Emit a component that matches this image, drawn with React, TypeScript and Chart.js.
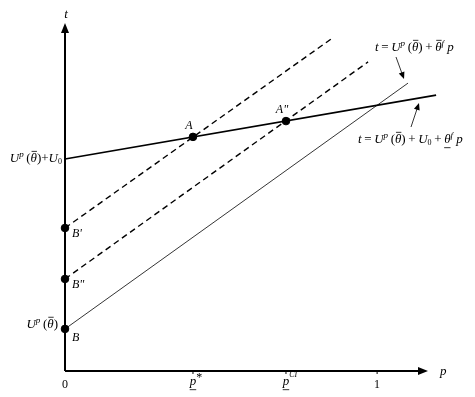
import React, { useEffect, useRef } from "react";
import { Chart, registerables } from "chart.js";

Chart.register(...registerables);

// x positions (p)
const pStar = 0.41;
const pCI = 0.708;
const xTicks = [0, pStar, pCI, 1];

// lines: [x, t] endpoints
const lineLow = [
  { x: 0, y: 0.67 },
  { x: 1.189, y: 0.872 },
]; // t = U^p + U0 + θ_ p
const lineHigh = [
  { x: 0, y: 0.133 },
  { x: 1.099, y: 0.91 },
]; // t = U^p + θ̄ p
const dashB1 = [
  { x: 0, y: 0.452 },
  { x: 0.862, y: 1.056 },
];
const dashB2 = [
  { x: 0, y: 0.291 },
  { x: 0.971, y: 0.977 },
];
const pointsA = [
  { x: pStar, y: 0.74 },
  { x: pCI, y: 0.79 },
];
const pointsB = [
  { x: 0, y: 0.452 },
  { x: 0, y: 0.291 },
  { x: 0, y: 0.133 },
];
const X_MAX = 1.163;
const Y_MAX = 1.1;

type Seg = { t: string; it?: boolean; sz?: number; dy?: number; ov?: boolean; un?: boolean };
const FONT = '"Liberation Serif", "Times New Roman", serif';
const TS = "\u2009";

function segFont(s: Seg, base: number) {
  const size = s.sz ?? base;
  return `${s.it ? "italic " : ""}${size}px ${FONT}`;
}

function drawRich(ctx: CanvasRenderingContext2D, segs: Seg[], x: number, y: number, align: "left" | "right" | "center", base = 13) {
  let total = 0;
  const widths = segs.map((s) => {
    ctx.font = segFont(s, base);
    const w = ctx.measureText(s.t).width;
    total += w;
    return w;
  });
  let cx = align === "left" ? x : align === "right" ? x - total : x - total / 2;
  ctx.textBaseline = "alphabetic";
  ctx.textAlign = "left";
  segs.forEach((s, i) => {
    ctx.font = segFont(s, base);
    const yy = y + (s.dy ?? 0);
    ctx.fillText(s.t, cx, yy);
    const size = s.sz ?? base;
    if (s.ov) {
      ctx.beginPath();
      ctx.lineWidth = 0.8;
      ctx.moveTo(cx + 1, yy - size * 0.82);
      ctx.lineTo(cx + widths[i], yy - size * 0.82);
      ctx.stroke();
    }
    if (s.un) {
      ctx.beginPath();
      ctx.lineWidth = 0.8;
      ctx.moveTo(cx, yy + size * 0.36);
      ctx.lineTo(cx + widths[i], yy + size * 0.36);
      ctx.stroke();
    }
    cx += widths[i];
  });
}

function arrow(ctx: CanvasRenderingContext2D, x1: number, y1: number, x2: number, y2: number, len = 7, half = 3) {
  const a = Math.atan2(y2 - y1, x2 - x1);
  ctx.beginPath();
  ctx.moveTo(x1, y1);
  ctx.lineTo(x2 - Math.cos(a) * len * 0.8, y2 - Math.sin(a) * len * 0.8);
  ctx.stroke();
  ctx.beginPath();
  ctx.moveTo(x2, y2);
  ctx.lineTo(x2 - Math.cos(a) * len - Math.sin(a) * half, y2 - Math.sin(a) * len + Math.cos(a) * half);
  ctx.lineTo(x2 - Math.cos(a) * len + Math.sin(a) * half, y2 - Math.sin(a) * len - Math.cos(a) * half);
  ctx.closePath();
  ctx.fill();
}

const Up = (): Seg[] => [
  { t: "U", it: true },
  { t: "p", it: true, sz: 9, dy: -5 },
  { t: TS + "(" },
  { t: "θ", it: true, ov: true },
  { t: ")" },
];

const overlay = {
  id: "overlay",
  afterDatasetsDraw(chart: any) {
    const ctx: CanvasRenderingContext2D = chart.ctx;
    const xs = chart.scales.x;
    const ys = chart.scales.y;
    const x0 = xs.getPixelForValue(0);
    const y0 = ys.getPixelForValue(0);
    const xEnd = xs.getPixelForValue(X_MAX);
    const yEnd = ys.getPixelForValue(Y_MAX);
    ctx.save();
    ctx.strokeStyle = "#000";
    ctx.fillStyle = "#000";
    ctx.lineWidth = 2;
    // y axis
    ctx.beginPath();
    ctx.moveTo(x0, y0);
    ctx.lineTo(x0, yEnd + 8);
    ctx.stroke();
    ctx.beginPath();
    ctx.moveTo(x0, yEnd);
    ctx.lineTo(x0 - 4, yEnd + 10);
    ctx.lineTo(x0 + 4, yEnd + 10);
    ctx.closePath();
    ctx.fill();
    // x axis
    ctx.beginPath();
    ctx.moveTo(x0, y0);
    ctx.lineTo(xEnd - 8, y0);
    ctx.stroke();
    ctx.beginPath();
    ctx.moveTo(xEnd, y0);
    ctx.lineTo(xEnd - 10, y0 - 4);
    ctx.lineTo(xEnd - 10, y0 + 4);
    ctx.closePath();
    ctx.fill();
    // ticks
    ctx.lineWidth = 1;
    xTicks.slice(1).forEach((v) => {
      const px = xs.getPixelForValue(v);
      ctx.beginPath();
      ctx.moveTo(px, y0);
      ctx.lineTo(px, y0 + 3);
      ctx.stroke();
    });
    // axis labels
    drawRich(ctx, [{ t: "t", it: true }], x0 + 1, yEnd - 5, "center");
    drawRich(ctx, [{ t: "p", it: true }], xEnd + 12, y0 + 4, "left");
    drawRich(ctx, [{ t: "0" }], x0, y0 + 17, "center", 12);
    drawRich(ctx, [{ t: "1" }], xs.getPixelForValue(1), y0 + 17, "center", 12);
    drawRich(ctx, [{ t: "p", it: true, un: true }, { t: "*", sz: 12, dy: -4 }], xs.getPixelForValue(pStar) + 3, y0 + 14, "center");
    drawRich(ctx, [{ t: "p", it: true, un: true }, { t: "CI", it: true, sz: 8, dy: -8 }], xs.getPixelForValue(pCI) + 4, y0 + 14, "center");
    // left labels
    drawRich(ctx, [...Up(), { t: "+" }, { t: "U", it: true }, { t: "0", sz: 8, dy: 2 }], x0 - 3, ys.getPixelForValue(lineLow[0].y) + 3, "right");
    drawRich(ctx, Up(), x0 - 7, ys.getPixelForValue(pointsB[2].y) - 1, "right");
    // point labels
    const bLabels = ["B'", "B\"", "B"];
    pointsB.forEach((p, i) => {
      drawRich(ctx, [{ t: bLabels[i], it: true, sz: 12 }], x0 + 7, ys.getPixelForValue(p.y) + 9 + (i === 2 ? 3 : 0), "left", 12);
    });
    const aLabels = ["A", "A\""];
    pointsA.forEach((p, i) => {
      const px = xs.getPixelForValue(p.x);
      const py = ys.getPixelForValue(p.y);
      drawRich(ctx, [{ t: aLabels[i], it: true }], px - 4, py - 8, "center", 12);
    });
    // equation labels
    ctx.lineWidth = 0.9;
    drawRich(
      ctx,
      [
        { t: "t", it: true },
        { t: TS + "=" + TS },
        ...Up(),
        { t: TS + "+" + TS },
        { t: "θ", it: true, ov: true },
        { t: "f", it: true, sz: 9, dy: -5 },
        { t: " " },
        { t: "p", it: true },
      ],
      375,
      51,
      "left"
    );
    arrow(ctx, 396, 57, 404, 79);
    drawRich(
      ctx,
      [
        { t: "t", it: true },
        { t: TS + "=" + TS },
        ...Up(),
        { t: TS + "+" + TS },
        { t: "U", it: true },
        { t: "0", sz: 8, dy: 2 },
        { t: TS + "+" + TS },
        { t: "θ", it: true, un: true },
        { t: "f", it: true, sz: 9, dy: -5 },
        { t: " " },
        { t: "p", it: true },
      ],
      358,
      143,
      "left"
    );
    arrow(ctx, 411, 127, 419, 103);
    ctx.restore();
  },
};

export default function App() {
  const ref = useRef<HTMLCanvasElement>(null);
  useEffect(() => {
    if (!ref.current) return;
    const chart = new Chart(ref.current, {
      type: "scatter",
      data: {
        datasets: [
          { data: lineLow, showLine: true, borderColor: "#000", borderWidth: 1.7, pointRadius: 0, clip: false },
          { data: lineHigh, showLine: true, borderColor: "#000", borderWidth: 0.8, pointRadius: 0, clip: false },
          { data: dashB1, showLine: true, borderColor: "#000", borderWidth: 1.4, borderDash: [6, 4], pointRadius: 0, clip: false },
          { data: dashB2, showLine: true, borderColor: "#000", borderWidth: 1.4, borderDash: [6, 4], pointRadius: 0, clip: false },
          { data: pointsA, showLine: false, pointRadius: 3.8, pointBackgroundColor: "#000", pointBorderColor: "#000", clip: false },
          { data: pointsB, showLine: false, pointRadius: 3.8, pointBackgroundColor: "#000", pointBorderColor: "#000", clip: false },
        ] as any,
      },
      options: {
        animation: false,
        responsive: false,
        layout: { padding: { left: 65, top: 23, right: 47, bottom: 26 } },
        plugins: { legend: { display: false }, tooltip: { enabled: false } },
        scales: {
          x: { type: "linear", min: 0, max: X_MAX, display: false },
          y: { type: "linear", min: 0, max: Y_MAX, display: false },
        },
      },
      plugins: [overlay],
    });
    return () => chart.destroy();
  }, []);
  return (
    <div style={{ position: "fixed", left: 0, top: 0, width: 475, height: 397, background: "#fff" }}>
      <canvas ref={ref} width={475} height={397} style={{ width: 475, height: 397 }} />
    </div>
  );
}
